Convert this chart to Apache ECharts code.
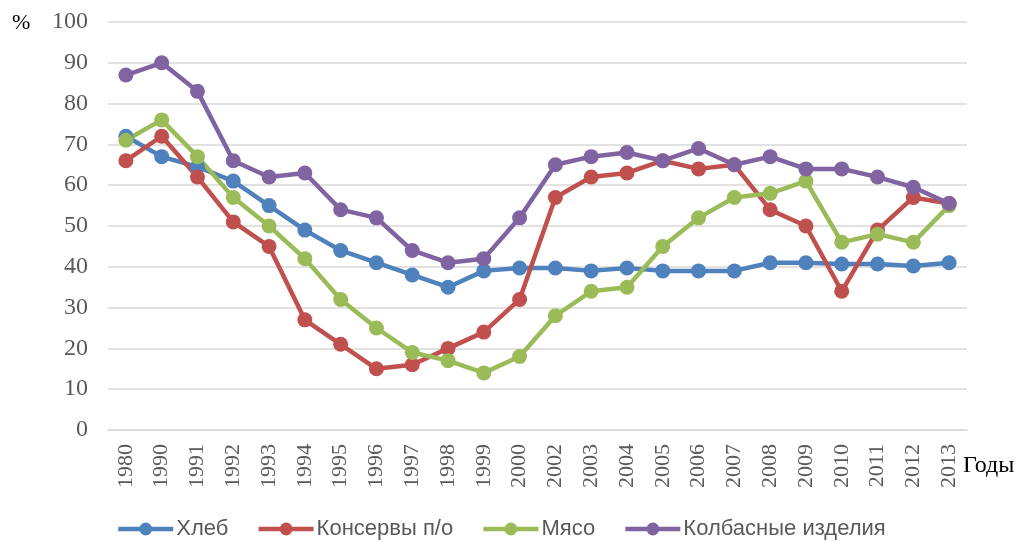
<!DOCTYPE html>
<html>
<head>
<meta charset="utf-8">
<script src="https://cdn.jsdelivr.net/npm/echarts@6/dist/echarts.min.js"></script>
<style>
  html, body { margin: 0; padding: 0; background: #fff; }
  #main { width: 1017px; height: 543px; }
</style>
</head>
<body>
<div id="main"></div>
<script>
// годы
var years = ['1980', '1990', '1991', '1992', '1993', '1994', '1995', '1996', '1997', '1998', '1999', '2000',
  '2002', '2003', '2004', '2005', '2006', '2007', '2008', '2009', '2010', '2011', '2012', '2013'];

var khleb = [72, 67, 64.5, 61, 55, 49, 44, 41, 38, 35, 39, 39.7, 39.7, 39, 39.7, 39, 39, 39, 41, 41, 40.7, 40.7, 40.2, 41];
var konservy = [66, 72, 62, 51, 45, 27, 21, 15, 16, 20, 24, 32, 57, 62, 63, 66, 64, 65, 54, 50, 34, 49, 57, 55.5];
var myaso = [71, 76, 67, 57, 50, 42, 32, 25, 19, 17, 14, 18, 28, 34, 35, 45, 52, 57, 58, 61, 46, 48, 46, 55];
var kolbasa = [87, 90, 83, 66, 62, 63, 54, 52, 44, 41, 42, 52, 65, 67, 68, 66, 69, 65, 67, 64, 64, 62, 59.5, 55.5];

var yTicks = [0, 10, 20, 30, 40, 50, 60, 70, 80, 90, 100];

var chart = echarts.init(document.getElementById('main'));

function mkSeries(name, data, color) {
  return {
    name: name,
    type: 'line',
    data: data,
    symbol: 'circle',
    symbolSize: 15,
    lineStyle: { width: 4.5, color: color },
    itemStyle: { color: color },
    emphasis: { disabled: true },
  };
}

var option = {
  animation: false,
  grid: { left: 108, right: 50, top: 22, bottom: 113 },
  xAxis: {
    type: 'category',
    data: years,
    boundaryGap: true,
    axisLine: { lineStyle: { color: '#d9d9d9', width: 1.5 } },
    axisTick: { show: false },
    axisLabel: {
      rotate: 90,
      margin: 14,
      interval: 0,
      fontFamily: 'Liberation Serif',
      fontSize: 22,
      color: '#595959',
    },
  },
  yAxis: {
    type: 'value',
    min: yTicks[0],
    max: yTicks[yTicks.length - 1],
    interval: 10,
    axisLine: { show: false },
    axisTick: { show: false },
    splitLine: { lineStyle: { color: '#d9d9d9', width: 1.5 } },
    axisLabel: {
      margin: 20,
      fontFamily: 'Liberation Serif',
      fontSize: 24,
      color: '#595959',
    },
  },
  legend: {
    top: 518,
    left: 116,
    padding: 0,
    itemWidth: 55,
    itemHeight: 16,
    itemGap: 28,
    lineStyle: { width: 4.5 },
    textStyle: {
      fontFamily: 'Liberation Sans',
      fontSize: 22,
      color: '#595959',
      padding: [0, 0, 0, -2],
    },
  },
  graphic: [
    {
      type: 'text', left: 12, top: 12,
      style: { text: '%', font: '22px "Liberation Serif"', fill: '#000' },
    },
    {
      type: 'text', left: 963, top: 454,
      style: { text: 'Годы', font: '24px "Liberation Serif"', fill: '#000' },
    },
  ],
  series: [
    mkSeries('Хлеб', khleb, '#4f81bd'),
    mkSeries('Консервы п/о', konservy, '#c0504d'),
    mkSeries('Мясо', myaso, '#9bbb59'),
    mkSeries('Колбасные изделия', kolbasa, '#8064a2'),
  ],
};

chart.setOption(option);
</script>
</body>
</html>
